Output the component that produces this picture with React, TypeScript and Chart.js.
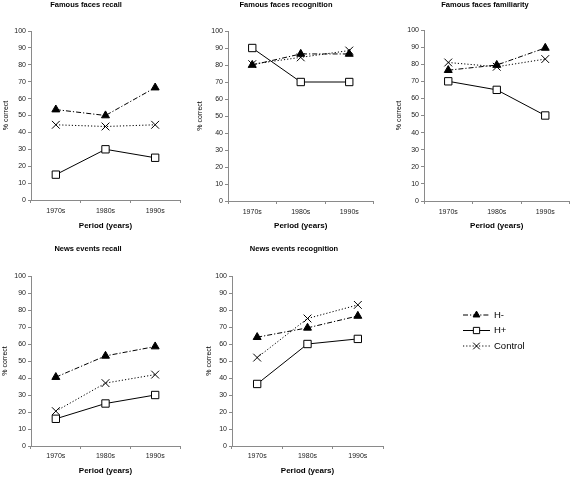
import React, { useEffect, useRef } from 'react';
import { Chart, registerables } from 'chart.js';
import { drawPoint } from 'chart.js/helpers';

Chart.register(...registerables);

// ---------- data ----------
const periods = ['1970s', '1980s', '1990s'];
const seriesNames = ['H-', 'H+', 'Control'];
const yMin = 0;
const yMax = 100;
const yStep = 10;

const ffRecallHminus = [53.5, 50, 66.5];
const ffRecallHplus = [15, 30, 25];
const ffRecallControl = [44.5, 43.5, 44.5];

const ffRecogHminus = [80, 86.5, 86.5];
const ffRecogHplus = [90, 70, 70];
const ffRecogControl = [80.5, 84.5, 88.5];

const ffFamilHminus = [76.5, 79.5, 89.5];
const ffFamilHplus = [70, 65, 50];
const ffFamilControl = [81, 78.5, 83];

const neRecallHminus = [40.5, 53, 58.5];
const neRecallHplus = [16, 25, 30];
const neRecallControl = [20.5, 37, 42];

const neRecogHminus = [64, 69.5, 76.5];
const neRecogHplus = [36.5, 60, 63];
const neRecogControl = [52, 75, 83];

const FONT = '"Liberation Sans", Arial, Helvetica, sans-serif';

// ---------- styles ----------
const seriesStyles: any[] = [
  {
    borderColor: '#000',
    borderWidth: 1,
    borderDash: [5, 2, 1.2, 2],
    pointStyle: 'triangle',
    pointRadius: 4.6,
    pointBackgroundColor: '#000',
    pointBorderColor: '#000',
    pointBorderWidth: 1,
  },
  {
    borderColor: '#000',
    borderWidth: 1,
    borderDash: [],
    pointStyle: 'rect',
    pointRadius: 5.2,
    pointBackgroundColor: '#fff',
    pointBorderColor: '#000',
    pointBorderWidth: 1,
  },
  {
    borderColor: '#000',
    borderWidth: 1,
    borderDash: [1.2, 2],
    pointStyle: 'crossRot',
    pointRadius: 5.5,
    pointBackgroundColor: '#000',
    pointBorderColor: '#000',
    pointBorderWidth: 1,
  },
];

// ---------- layout (absolute page coordinates) ----------
const panels = [
  {
    title: 'Famous faces recall', series: [ffRecallHminus, ffRecallHplus, ffRecallControl],
    x: 0, y: 0, w: 190, h: 235, L: 31, T: 31, R: 180, B: 200,
    titleX: 86, titleY: 5, yTitleX: 6, tickPad: 4, xTitleY: 226,
  },
  {
    title: 'Famous faces recognition', series: [ffRecogHminus, ffRecogHplus, ffRecogControl],
    x: 190, y: 0, w: 190, h: 235, L: 228, T: 31, R: 378, B: 201,
    titleX: 286, titleY: 5, yTitleX: 200, tickPad: 4, xTitleY: 226,
  },
  {
    title: 'Famous faces familiarity', series: [ffFamilHminus, ffFamilHplus, ffFamilControl],
    x: 380, y: 0, w: 196, h: 235, L: 424, T: 30, R: 575, B: 201,
    titleX: 485, titleY: 5, yTitleX: 399, tickPad: 4, xTitleY: 226,
  },
  {
    title: 'News events recall', series: [neRecallHminus, neRecallHplus, neRecallControl],
    x: 0, y: 240, w: 190, h: 237, L: 31, T: 276, R: 180, B: 446,
    titleX: 88, titleY: 249, yTitleX: 5, tickPad: 3, xTitleY: 471,
  },
  {
    title: 'News events recognition', series: [neRecogHminus, neRecogHplus, neRecogControl],
    x: 190, y: 240, w: 200, h: 237, L: 232, T: 276, R: 383, B: 446,
    titleX: 294, titleY: 249, yTitleX: 209, tickPad: 3, xTitleY: 471,
  },
];

const legendBox = { x: 440, y: 290, w: 136, h: 80, lineX0: 23, lineX1: 50, textX: 54, rowY0: 25, rowDy: 15.5 };

// ---------- plugins ----------
const panelTitlePlugin = {
  id: 'panelTitle',
  afterDraw(chart: any, _args: any, opts: any) {
    if (!opts || !opts.text) return;
    const ctx = chart.ctx;
    ctx.save();
    ctx.font = `bold 7.5px ${FONT}`;
    ctx.fillStyle = '#000';
    ctx.textAlign = 'center';
    ctx.textBaseline = 'middle';
    ctx.fillText(opts.text, opts.x, opts.y);
    ctx.restore();
  },
};

const lineLegendPlugin = {
  id: 'lineLegend',
  afterDraw(chart: any, _args: any, opts: any) {
    const ctx = chart.ctx;
    chart.data.datasets.forEach((ds: any, i: number) => {
      const y = opts.rowY0 + i * opts.rowDy;
      ctx.save();
      ctx.strokeStyle = ds.borderColor;
      ctx.lineWidth = ds.borderWidth;
      ctx.setLineDash(ds.borderDash || []);
      ctx.beginPath();
      ctx.moveTo(opts.lineX0, y);
      ctx.lineTo(opts.lineX1, y);
      ctx.stroke();
      ctx.setLineDash([]);
      ctx.fillStyle = ds.pointBackgroundColor;
      ctx.strokeStyle = ds.pointBorderColor;
      ctx.lineWidth = ds.pointBorderWidth;
      drawPoint(ctx, { pointStyle: ds.pointStyle, radius: ds.pointRadius * 0.85, rotation: 0, borderWidth: 1 } as any,
        (opts.lineX0 + opts.lineX1) / 2, y);
      ctx.fillStyle = '#000';
      ctx.font = `9.5px ${FONT}`;
      ctx.textAlign = 'left';
      ctx.textBaseline = 'middle';
      ctx.fillText(ds.label, opts.textX, y);
      ctx.restore();
    });
  },
};

function makeDatasets(series: number[][]) {
  return seriesNames.map((name, i) => ({
    label: name,
    data: series[i],
    ...seriesStyles[i],
    fill: false,
    tension: 0,
  }));
}

function Panel({ cfg }: { cfg: any }) {
  const ref = useRef<HTMLCanvasElement>(null);
  useEffect(() => {
    const T = cfg.T - cfg.y;
    const R = cfg.R - cfg.x;
    const B = cfg.B - cfg.y;
    const yW = cfg.L - cfg.x;
    const xTitleLH = 8 * 1.2;
    const xH = cfg.xTitleY - cfg.B + xTitleLH / 2;
    const padBottom = cfg.h - B - xH;
    const yTitleLH = 7 * 1.2;
    const yTitlePad = Math.max(0, cfg.yTitleX - cfg.x - yTitleLH / 2);
    const axisColor = '#8a8a8a';
    const chart = new Chart(ref.current as HTMLCanvasElement, {
      type: 'line',
      data: { labels: periods, datasets: makeDatasets(cfg.series) as any },
      options: {
        responsive: false,
        animation: false,
        devicePixelRatio: 1,
        events: [],
        layout: { padding: { left: 0, top: T, right: cfg.w - R, bottom: padBottom } },
        plugins: {
          legend: { display: false },
          tooltip: { enabled: false },
          panelTitle: { text: cfg.title, x: cfg.titleX - cfg.x, y: cfg.titleY - cfg.y },
        } as any,
        scales: {
          x: {
            type: 'category',
            offset: true,
            grid: { offset: true, drawOnChartArea: false, drawTicks: true, tickLength: 3, color: axisColor },
            border: { display: true, color: axisColor, width: 1 },
            ticks: { padding: cfg.tickPad, font: { family: FONT, size: 7 }, color: '#222', maxRotation: 0, autoSkip: false },
            title: {
              display: true, text: 'Period (years)', color: '#000',
              font: { family: FONT, size: 8, weight: 'bold' }, padding: { top: 0, bottom: 0 },
            },
            afterFit: (s: any) => { s.height = xH; },
          },
          y: {
            min: yMin,
            max: yMax,
            grid: { drawOnChartArea: false, drawTicks: true, tickLength: 3, color: axisColor },
            border: { display: true, color: axisColor, width: 1 },
            ticks: { stepSize: yStep, padding: 2, font: { family: FONT, size: 7 }, color: '#222' },
            title: {
              display: true, text: '% correct', color: '#000',
              font: { family: FONT, size: 7 }, padding: { top: yTitlePad, bottom: 0 },
            },
            afterFit: (s: any) => { s.width = yW; },
          },
        },
      } as any,
      plugins: [panelTitlePlugin],
    });
    return () => chart.destroy();
  }, [cfg]);
  return (
    <canvas
      ref={ref}
      width={cfg.w}
      height={cfg.h}
      style={{ position: 'absolute', left: cfg.x, top: cfg.y, width: cfg.w, height: cfg.h }}
    />
  );
}

function Legend() {
  const ref = useRef<HTMLCanvasElement>(null);
  useEffect(() => {
    const chart = new Chart(ref.current as HTMLCanvasElement, {
      type: 'line',
      data: { labels: [], datasets: makeDatasets([[], [], []]) as any },
      options: {
        responsive: false,
        animation: false,
        devicePixelRatio: 1,
        events: [],
        plugins: {
          legend: { display: false },
          tooltip: { enabled: false },
          lineLegend: legendBox,
        } as any,
        scales: { x: { display: false }, y: { display: false } },
      } as any,
      plugins: [lineLegendPlugin],
    });
    return () => chart.destroy();
  }, []);
  return (
    <canvas
      ref={ref}
      width={legendBox.w}
      height={legendBox.h}
      style={{ position: 'absolute', left: legendBox.x, top: legendBox.y, width: legendBox.w, height: legendBox.h }}
    />
  );
}

export default function App() {
  return (
    <div style={{ position: 'absolute', left: 0, top: 0, width: 576, height: 477, background: '#fff', overflow: 'hidden' }}>
      {panels.map((p, i) => <Panel key={i} cfg={p} />)}
      <Legend />
    </div>
  );
}
